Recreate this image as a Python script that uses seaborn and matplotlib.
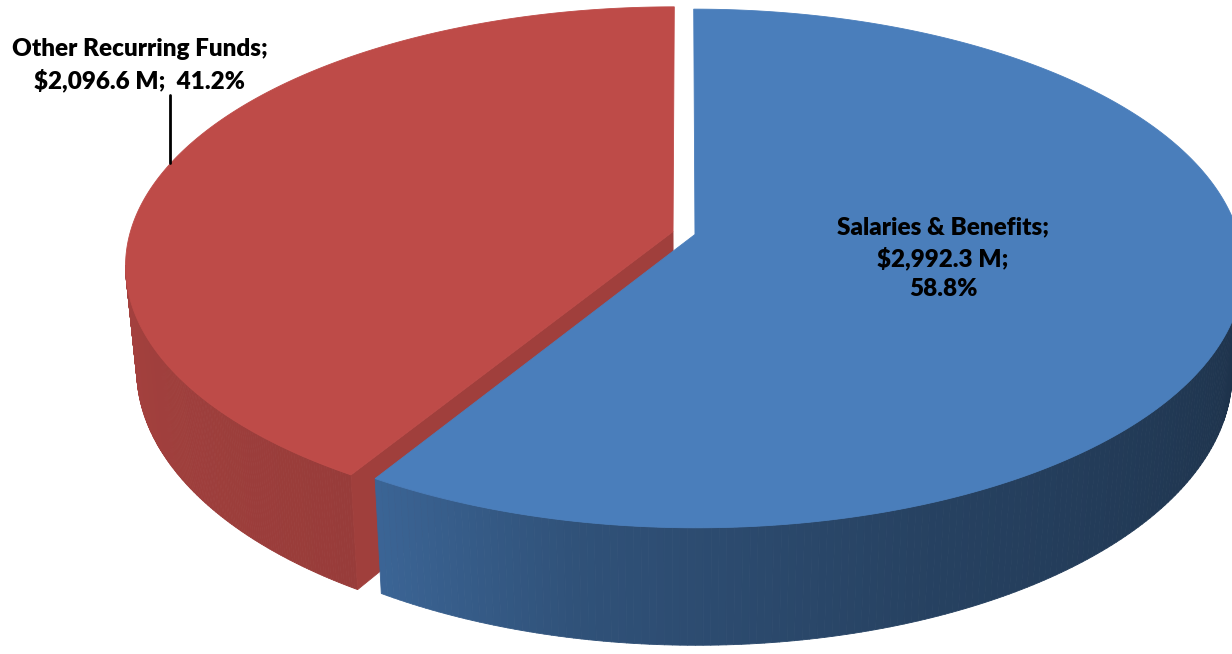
import numpy as np
import matplotlib
matplotlib.use("Agg")
import matplotlib.pyplot as plt
from matplotlib.collections import PolyCollection
from matplotlib.colors import to_rgb
import seaborn as sns

# ---------------- data ----------------
categories = ["Salaries & Benefits", "Other Recurring Funds"]
values = [2992.3, 2096.6]          # $ M
colors = ["#4a7ebb", "#be4b48"]

sns.set_theme(style="white")
plt.rcParams["font.family"] = ["Lato", "DejaVu Sans"]

W, H = 1232, 654
fig = plt.figure(figsize=(W / 100, H / 100), dpi=100)
ax = fig.add_axes([0, 0, 1, 1])
ax.set_xlim(0, W)
ax.set_ylim(H, 0)
ax.axis("off")

# ---------------- 3D-pie geometry (layout) ----------------
CX, CY = 684.0, 233.0     # projected centre of pie (px)
A, B = 543.0, 254.5       # horizontal / depth radii (px)
P = 0.131                 # perspective strength
DEPTH = 102.0             # thickness (px)
CONVERGE = 0.98           # verticals converge slightly downwards
EXPLODE = 0.021
START = 90.0


def proj(u, v, z):
    s = 1.0 / (1.0 + P * v)
    kx = 1.0 + (1.0 - CONVERGE) * z      # z = 0 top, z = -1 bottom
    return CX + A * u * s * kx, CY - (B * v + DEPTH * z) * s


def shade(theta_deg):
    t = np.mod(theta_deg, 360.0)
    return np.interp(t, [180, 238, 260, 292, 352, 360],
                     [0.88, 0.80, 0.64, 0.52, 0.39, 0.38])


vals = np.array(values, dtype=float)
fracs = vals / vals.sum()
bounds = START - 360.0 * np.concatenate([[0], np.cumsum(fracs)])
sil = np.degrees(np.arcsin(P))   # silhouette offset

slices = []
for i in range(len(vals)):
    t_hi, t_lo = bounds[i], bounds[i + 1]
    mid = np.radians((t_hi + t_lo) / 2)
    du, dv = EXPLODE * np.cos(mid), EXPLODE * np.sin(mid)
    slices.append((t_lo, t_hi, du, dv))

# draw order: back slice (red) first, then front (blue)
order = [1, 0]
for i in order:
    t_lo, t_hi, du, dv = slices[i]
    base = np.array(to_rgb(colors[i]))

    # ---- outer wall (visible front part) ----
    lo, hi = t_lo % 360, t_hi % 360
    if hi <= lo:
        hi += 360
    segs_rng = []
    for off in (0, 360, -360):
        a0 = max(lo + off, 180 + sil)
        a1 = min(hi + off, 360 - sil)
        if a1 > a0:
            segs_rng.append((a0, a1))
    for a0, a1 in segs_rng:
        th = np.linspace(a0, a1, 160)
        polys, fcs = [], []
        for k in range(len(th) - 1):
            r0, r1 = np.radians(th[k]), np.radians(th[k + 1])
            pts = [proj(du + np.cos(r0), dv + np.sin(r0), 0),
                   proj(du + np.cos(r1), dv + np.sin(r1), 0),
                   proj(du + np.cos(r1), dv + np.sin(r1), -1),
                   proj(du + np.cos(r0), dv + np.sin(r0), -1)]
            polys.append(pts)
            c = np.clip(base * shade((th[k] + th[k + 1]) / 2), 0, 1)
            fcs.append(c)
        pc = PolyCollection(polys, facecolors=fcs, edgecolors=fcs,
                            linewidths=0.6, zorder=2)
        ax.add_collection(pc)

    # ---- cut faces that face the viewer ----
    for edge, sign in ((t_lo, -1), (t_hi, +1)):
        r = np.radians(edge)
        nrm = np.radians(edge + 90 * sign)
        if np.sin(nrm) < -0.05:
            pts = [proj(du, dv, 0),
                   proj(du + np.cos(r), dv + np.sin(r), 0),
                   proj(du + np.cos(r), dv + np.sin(r), -1),
                   proj(du, dv, -1)]
            c = np.clip(base * 0.84, 0, 1)
            ax.fill([p[0] for p in pts], [p[1] for p in pts],
                    color=c, lw=0.6, ec=c, zorder=2)

    # ---- top face ----
    th = np.radians(np.linspace(t_lo, t_hi, 400))
    pts = [proj(du, dv, 0)] + [proj(du + np.cos(t), dv + np.sin(t), 0) for t in th]
    ax.fill([p[0] for p in pts], [p[1] for p in pts],
            color=colors[i], lw=0.6, ec=colors[i], zorder=2)

# ---------------- labels ----------------
pct = fracs * 100
lab0 = f"{categories[0]};\n${values[0]:,.1f} M;\n{pct[0]:.1f}%"
lab1 = f"{categories[1]};\n${values[1]:,.1f} M;  {pct[1]:.1f}%"

ax.text(943, 258, lab0, ha="center", va="center", fontsize=17.5,
        fontweight="heavy", color="black", linespacing=1.41,
        parse_math=False, zorder=5)
ax.text(140, 65, lab1, ha="center", va="center", fontsize=17.5,
        fontweight="heavy", color="black", linespacing=1.41,
        parse_math=False, zorder=5)
ax.plot([170, 170], [95, 163], color="black", lw=2, zorder=5)

fig.savefig("out.png", dpi=100, facecolor="white")
